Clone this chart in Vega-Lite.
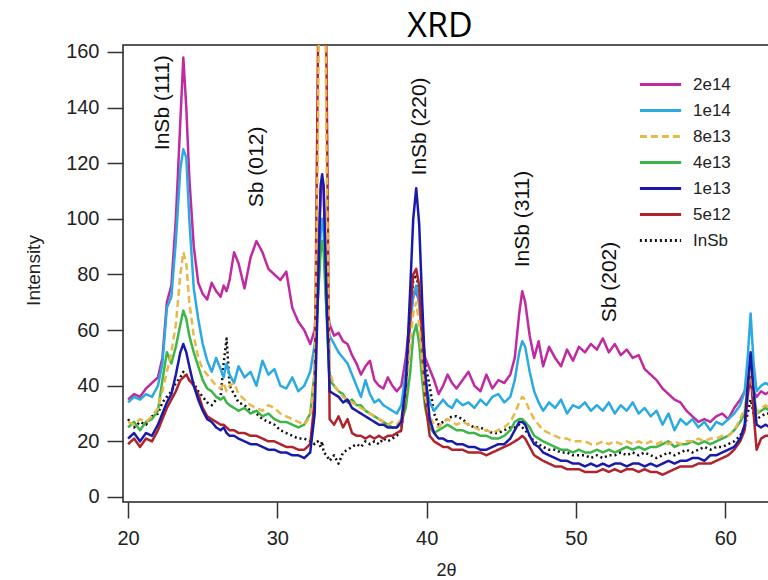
{
  "$schema": "https://vega.github.io/schema/vega-lite/v6.json",
  "width": 646,
  "height": 457,
  "autosize": {"type": "none"},
  "padding": {"left": 123, "top": 45, "right": 0, "bottom": 78},
  "background": "white",
  "title": {"text": "XRD", "font": "Open Sans", "fontSize": 34, "fontWeight": "normal", "color": "#000", "anchor": "middle", "frame": "group", "dx": -6, "dy": 35, "offset": 6, "baseline": "alphabetic"},
  "config": {
    "view": {"stroke": "#222", "strokeWidth": 1.5},
    "axis": {"domain": false, "grid": false, "tickColor": "#333", "tickWidth": 1.5, "tickSize": 16, "labelFont": "Liberation Sans", "labelFontSize": 20, "labelColor": "#222", "labelFlush": false, "titleFont": "Liberation Sans", "titleFontSize": 19, "titleFontWeight": "normal", "titleColor": "#222"},
    "legend": {"orient": "none", "legendX": 515, "legendY": 31, "labelFont": "Liberation Sans", "labelFontSize": 17, "labelColor": "#222", "symbolType": "stroke", "symbolSize": 1700, "symbolStrokeWidth": 3, "clipHeight": 17, "rowPadding": 8, "labelOffset": 10, "padding": 0}
  },
  "layer": [
    {
      "data": {"values": [
        {"x":20.0,"2e14":35,"1e14":34,"8e13":27,"4e13":25,"1e13":21,"5e12":19,"InSb":28},
        {"x":20.4,"2e14":37,"1e14":36,"8e13":26,"4e13":27,"1e13":23,"5e12":21,"InSb":25},
        {"x":20.8,"2e14":36,"1e14":35,"8e13":28,"4e13":24,"1e13":20,"5e12":18,"InSb":27},
        {"x":21.2,"2e14":39,"1e14":37,"8e13":27,"4e13":27,"1e13":23,"5e12":21,"InSb":26},
        {"x":21.6,"2e14":41,"1e14":36,"8e13":29,"4e13":28,"1e13":22,"5e12":20,"InSb":29},
        {"x":22.0,"2e14":43,"1e14":40,"8e13":32,"4e13":31,"1e13":26,"5e12":24,"InSb":30},
        {"x":22.3,"2e14":50,"1e14":48,"8e13":38,"4e13":42,"1e13":30,"5e12":28,"InSb":34},
        {"x":22.6,"2e14":70,"1e14":68,"8e13":45,"4e13":52,"1e13":34,"5e12":32,"InSb":36},
        {"x":22.9,"2e14":76,"1e14":72,"8e13":52,"4e13":48,"1e13":37,"5e12":35,"InSb":38},
        {"x":23.2,"2e14":100,"1e14":92,"8e13":62,"4e13":54,"1e13":44,"5e12":38,"InSb":41},
        {"x":23.5,"2e14":135,"1e14":118,"8e13":80,"4e13":62,"1e13":52,"5e12":42,"InSb":43},
        {"x":23.7,"2e14":158,"1e14":125,"8e13":88,"4e13":67,"1e13":55,"5e12":43,"InSb":45},
        {"x":23.9,"2e14":140,"1e14":122,"8e13":84,"4e13":64,"1e13":52,"5e12":44,"InSb":44},
        {"x":24.1,"2e14":115,"1e14":100,"8e13":70,"4e13":58,"1e13":47,"5e12":42,"InSb":42},
        {"x":24.4,"2e14":90,"1e14":75,"8e13":58,"4e13":52,"1e13":40,"5e12":40,"InSb":41},
        {"x":24.7,"2e14":77,"1e14":64,"8e13":50,"4e13":47,"1e13":35,"5e12":37,"InSb":38},
        {"x":25.0,"2e14":73,"1e14":55,"8e13":46,"4e13":42,"1e13":31,"5e12":32,"InSb":36},
        {"x":25.3,"2e14":71,"1e14":49,"8e13":44,"4e13":39,"1e13":28,"5e12":29,"InSb":34},
        {"x":25.6,"2e14":77,"1e14":45,"8e13":42,"4e13":38,"1e13":27,"5e12":28,"InSb":33},
        {"x":25.9,"2e14":74,"1e14":50,"8e13":40,"4e13":36,"1e13":25,"5e12":27,"InSb":35},
        {"x":26.2,"2e14":72,"1e14":46,"8e13":39,"4e13":35,"1e13":24,"5e12":26,"InSb":36},
        {"x":26.4,"2e14":76,"1e14":43,"8e13":41,"4e13":36,"1e13":25,"5e12":26,"InSb":48},
        {"x":26.6,"2e14":74,"1e14":48,"8e13":38,"4e13":34,"1e13":23,"5e12":25,"InSb":57},
        {"x":26.8,"2e14":78,"1e14":44,"8e13":40,"4e13":33,"1e13":22,"5e12":24,"InSb":40},
        {"x":27.1,"2e14":88,"1e14":41,"8e13":41,"4e13":32,"1e13":22,"5e12":24,"InSb":37},
        {"x":27.4,"2e14":84,"1e14":47,"8e13":37,"4e13":31,"1e13":21,"5e12":23,"InSb":34},
        {"x":27.8,"2e14":75,"1e14":43,"8e13":35,"4e13":32,"1e13":20,"5e12":23,"InSb":33},
        {"x":28.2,"2e14":86,"1e14":45,"8e13":33,"4e13":30,"1e13":19,"5e12":22,"InSb":31},
        {"x":28.6,"2e14":92,"1e14":40,"8e13":32,"4e13":31,"1e13":19,"5e12":22,"InSb":30},
        {"x":29.0,"2e14":88,"1e14":49,"8e13":31,"4e13":29,"1e13":18,"5e12":21,"InSb":28},
        {"x":29.4,"2e14":82,"1e14":44,"8e13":33,"4e13":30,"1e13":17,"5e12":20,"InSb":27},
        {"x":29.8,"2e14":80,"1e14":46,"8e13":32,"4e13":28,"1e13":17,"5e12":20,"InSb":26},
        {"x":30.2,"2e14":78,"1e14":40,"8e13":30,"4e13":27,"1e13":16,"5e12":19,"InSb":24},
        {"x":30.6,"2e14":81,"1e14":39,"8e13":29,"4e13":27,"1e13":16,"5e12":18,"InSb":23},
        {"x":31.0,"2e14":68,"1e14":43,"8e13":28,"4e13":26,"1e13":15,"5e12":18,"InSb":22},
        {"x":31.4,"2e14":63,"1e14":38,"8e13":27,"4e13":25,"1e13":15,"5e12":17,"InSb":21},
        {"x":31.8,"2e14":60,"1e14":40,"8e13":26,"4e13":26,"1e13":14,"5e12":17,"InSb":21},
        {"x":32.2,"2e14":55,"1e14":45,"8e13":29,"4e13":30,"1e13":16,"5e12":19,"InSb":20},
        {"x":32.5,"2e14":60,"1e14":55,"8e13":45,"4e13":45,"1e13":30,"5e12":35,"InSb":19},
        {"x":32.7,"2e14":80,"1e14":70,"8e13":120,"4e13":70,"1e13":70,"5e12":150,"InSb":20},
        {"x":32.9,"2e14":110,"1e14":95,"8e13":250,"4e13":88,"1e13":112,"5e12":250,"InSb":18},
        {"x":33.0,"2e14":114,"1e14":100,"8e13":260,"4e13":92,"1e13":116,"5e12":260,"InSb":20},
        {"x":33.1,"2e14":110,"1e14":95,"8e13":250,"4e13":88,"1e13":112,"5e12":250,"InSb":16},
        {"x":33.3,"2e14":70,"1e14":65,"8e13":120,"4e13":65,"1e13":70,"5e12":150,"InSb":15},
        {"x":33.5,"2e14":62,"1e14":58,"8e13":45,"4e13":42,"1e13":38,"5e12":28,"InSb":13},
        {"x":33.8,"2e14":58,"1e14":55,"8e13":40,"4e13":40,"1e13":37,"5e12":26,"InSb":15},
        {"x":34.1,"2e14":59,"1e14":52,"8e13":38,"4e13":38,"1e13":36,"5e12":29,"InSb":12},
        {"x":34.4,"2e14":56,"1e14":50,"8e13":36,"4e13":37,"1e13":34,"5e12":25,"InSb":16},
        {"x":34.7,"2e14":55,"1e14":48,"8e13":35,"4e13":34,"1e13":35,"5e12":28,"InSb":17},
        {"x":35.0,"2e14":51,"1e14":44,"8e13":34,"4e13":35,"1e13":32,"5e12":23,"InSb":18},
        {"x":35.3,"2e14":48,"1e14":40,"8e13":33,"4e13":33,"1e13":31,"5e12":22,"InSb":19},
        {"x":35.6,"2e14":44,"1e14":36,"8e13":32,"4e13":33,"1e13":30,"5e12":22,"InSb":18},
        {"x":35.9,"2e14":47,"1e14":42,"8e13":31,"4e13":31,"1e13":29,"5e12":21,"InSb":20},
        {"x":36.2,"2e14":49,"1e14":37,"8e13":30,"4e13":30,"1e13":28,"5e12":22,"InSb":19},
        {"x":36.5,"2e14":42,"1e14":34,"8e13":29,"4e13":29,"1e13":27,"5e12":21,"InSb":20},
        {"x":36.8,"2e14":40,"1e14":35,"8e13":28,"4e13":28,"1e13":26,"5e12":22,"InSb":19},
        {"x":37.1,"2e14":39,"1e14":33,"8e13":27,"4e13":27,"1e13":26,"5e12":21,"InSb":21},
        {"x":37.4,"2e14":43,"1e14":32,"8e13":26,"4e13":26,"1e13":25,"5e12":22,"InSb":20},
        {"x":37.7,"2e14":40,"1e14":31,"8e13":27,"4e13":25,"1e13":25,"5e12":22,"InSb":21},
        {"x":38.0,"2e14":38,"1e14":30,"8e13":26,"4e13":25,"1e13":25,"5e12":23,"InSb":22},
        {"x":38.3,"2e14":40,"1e14":33,"8e13":28,"4e13":27,"1e13":27,"5e12":24,"InSb":24},
        {"x":38.6,"2e14":50,"1e14":45,"8e13":38,"4e13":32,"1e13":40,"5e12":38,"InSb":40},
        {"x":38.9,"2e14":65,"1e14":62,"8e13":55,"4e13":45,"1e13":75,"5e12":65,"InSb":65},
        {"x":39.1,"2e14":72,"1e14":72,"8e13":66,"4e13":58,"1e13":100,"5e12":80,"InSb":78},
        {"x":39.3,"2e14":74,"1e14":76,"8e13":70,"4e13":62,"1e13":111,"5e12":82,"InSb":80},
        {"x":39.5,"2e14":70,"1e14":70,"8e13":62,"4e13":55,"1e13":98,"5e12":76,"InSb":74},
        {"x":39.7,"2e14":58,"1e14":55,"8e13":48,"4e13":42,"1e13":70,"5e12":55,"InSb":58},
        {"x":39.9,"2e14":50,"1e14":42,"8e13":36,"4e13":32,"1e13":45,"5e12":35,"InSb":48},
        {"x":40.2,"2e14":46,"1e14":34,"8e13":29,"4e13":25,"1e13":28,"5e12":22,"InSb":40},
        {"x":40.5,"2e14":42,"1e14":31,"8e13":26,"4e13":23,"1e13":23,"5e12":20,"InSb":30},
        {"x":40.8,"2e14":37,"1e14":33,"8e13":25,"4e13":24,"1e13":21,"5e12":19,"InSb":26},
        {"x":41.1,"2e14":40,"1e14":35,"8e13":27,"4e13":25,"1e13":21,"5e12":18,"InSb":27},
        {"x":41.4,"2e14":44,"1e14":33,"8e13":28,"4e13":26,"1e13":20,"5e12":18,"InSb":28},
        {"x":41.7,"2e14":41,"1e14":32,"8e13":27,"4e13":25,"1e13":20,"5e12":17,"InSb":29},
        {"x":42.0,"2e14":39,"1e14":35,"8e13":26,"4e13":24,"1e13":19,"5e12":17,"InSb":29},
        {"x":42.4,"2e14":42,"1e14":33,"8e13":27,"4e13":24,"1e13":19,"5e12":17,"InSb":28},
        {"x":42.8,"2e14":45,"1e14":34,"8e13":26,"4e13":23,"1e13":18,"5e12":16,"InSb":26},
        {"x":43.2,"2e14":40,"1e14":32,"8e13":25,"4e13":23,"1e13":18,"5e12":16,"InSb":25},
        {"x":43.6,"2e14":38,"1e14":35,"8e13":24,"4e13":22,"1e13":17,"5e12":16,"InSb":25},
        {"x":44.0,"2e14":44,"1e14":33,"8e13":24,"4e13":22,"1e13":17,"5e12":15,"InSb":24},
        {"x":44.4,"2e14":39,"1e14":36,"8e13":23,"4e13":21,"1e13":18,"5e12":16,"InSb":23},
        {"x":44.8,"2e14":42,"1e14":37,"8e13":24,"4e13":21,"1e13":19,"5e12":17,"InSb":23},
        {"x":45.2,"2e14":41,"1e14":34,"8e13":25,"4e13":22,"1e13":19,"5e12":18,"InSb":24},
        {"x":45.6,"2e14":44,"1e14":36,"8e13":27,"4e13":24,"1e13":21,"5e12":19,"InSb":25},
        {"x":45.9,"2e14":50,"1e14":42,"8e13":30,"4e13":27,"1e13":24,"5e12":20,"InSb":25},
        {"x":46.2,"2e14":66,"1e14":52,"8e13":34,"4e13":28,"1e13":27,"5e12":21,"InSb":26},
        {"x":46.4,"2e14":74,"1e14":56,"8e13":36,"4e13":28,"1e13":27,"5e12":22,"InSb":25},
        {"x":46.6,"2e14":70,"1e14":54,"8e13":35,"4e13":27,"1e13":26,"5e12":21,"InSb":24},
        {"x":46.9,"2e14":58,"1e14":45,"8e13":31,"4e13":25,"1e13":22,"5e12":18,"InSb":22},
        {"x":47.2,"2e14":50,"1e14":38,"8e13":28,"4e13":22,"1e13":19,"5e12":15,"InSb":20},
        {"x":47.5,"2e14":56,"1e14":34,"8e13":26,"4e13":21,"1e13":18,"5e12":14,"InSb":19},
        {"x":47.8,"2e14":47,"1e14":31,"8e13":24,"4e13":20,"1e13":16,"5e12":13,"InSb":18},
        {"x":48.2,"2e14":54,"1e14":34,"8e13":23,"4e13":19,"1e13":15,"5e12":12,"InSb":17},
        {"x":48.6,"2e14":50,"1e14":32,"8e13":22,"4e13":18,"1e13":14,"5e12":11,"InSb":17},
        {"x":49.0,"2e14":47,"1e14":35,"8e13":21,"4e13":17,"1e13":13,"5e12":11,"InSb":16},
        {"x":49.4,"2e14":53,"1e14":30,"8e13":21,"4e13":17,"1e13":13,"5e12":10,"InSb":16},
        {"x":49.8,"2e14":49,"1e14":33,"8e13":20,"4e13":16,"1e13":12,"5e12":10,"InSb":15},
        {"x":50.2,"2e14":54,"1e14":32,"8e13":20,"4e13":17,"1e13":12,"5e12":10,"InSb":15},
        {"x":50.6,"2e14":52,"1e14":34,"8e13":20,"4e13":16,"1e13":11,"5e12":9,"InSb":15},
        {"x":51.0,"2e14":55,"1e14":31,"8e13":19,"4e13":16,"1e13":12,"5e12":9,"InSb":14},
        {"x":51.4,"2e14":53,"1e14":33,"8e13":19,"4e13":17,"1e13":11,"5e12":9,"InSb":15},
        {"x":51.8,"2e14":57,"1e14":31,"8e13":20,"4e13":16,"1e13":12,"5e12":10,"InSb":14},
        {"x":52.2,"2e14":52,"1e14":34,"8e13":19,"4e13":17,"1e13":11,"5e12":9,"InSb":15},
        {"x":52.6,"2e14":55,"1e14":30,"8e13":20,"4e13":16,"1e13":12,"5e12":10,"InSb":15},
        {"x":53.0,"2e14":51,"1e14":33,"8e13":19,"4e13":17,"1e13":12,"5e12":9,"InSb":16},
        {"x":53.4,"2e14":53,"1e14":31,"8e13":20,"4e13":18,"1e13":11,"5e12":10,"InSb":15},
        {"x":53.8,"2e14":50,"1e14":34,"8e13":19,"4e13":17,"1e13":12,"5e12":10,"InSb":16},
        {"x":54.2,"2e14":51,"1e14":30,"8e13":20,"4e13":18,"1e13":12,"5e12":9,"InSb":15},
        {"x":54.6,"2e14":46,"1e14":32,"8e13":19,"4e13":17,"1e13":11,"5e12":10,"InSb":16},
        {"x":55.0,"2e14":44,"1e14":29,"8e13":20,"4e13":18,"1e13":12,"5e12":9,"InSb":15},
        {"x":55.4,"2e14":42,"1e14":31,"8e13":19,"4e13":18,"1e13":11,"5e12":9,"InSb":14},
        {"x":55.8,"2e14":39,"1e14":26,"8e13":20,"4e13":19,"1e13":12,"5e12":8,"InSb":15},
        {"x":56.2,"2e14":37,"1e14":30,"8e13":19,"4e13":20,"1e13":13,"5e12":9,"InSb":16},
        {"x":56.6,"2e14":35,"1e14":24,"8e13":20,"4e13":18,"1e13":12,"5e12":10,"InSb":15},
        {"x":57.0,"2e14":34,"1e14":28,"8e13":19,"4e13":19,"1e13":13,"5e12":11,"InSb":16},
        {"x":57.4,"2e14":31,"1e14":26,"8e13":20,"4e13":19,"1e13":13,"5e12":11,"InSb":17},
        {"x":57.8,"2e14":29,"1e14":28,"8e13":20,"4e13":20,"1e13":14,"5e12":11,"InSb":16},
        {"x":58.2,"2e14":27,"1e14":25,"8e13":21,"4e13":19,"1e13":14,"5e12":12,"InSb":17},
        {"x":58.6,"2e14":28,"1e14":27,"8e13":20,"4e13":20,"1e13":13,"5e12":12,"InSb":18},
        {"x":59.0,"2e14":27,"1e14":24,"8e13":21,"4e13":19,"1e13":15,"5e12":12,"InSb":17},
        {"x":59.4,"2e14":29,"1e14":27,"8e13":21,"4e13":20,"1e13":15,"5e12":13,"InSb":18},
        {"x":59.8,"2e14":30,"1e14":26,"8e13":22,"4e13":21,"1e13":16,"5e12":14,"InSb":18},
        {"x":60.2,"2e14":28,"1e14":28,"8e13":22,"4e13":22,"1e13":17,"5e12":15,"InSb":19},
        {"x":60.6,"2e14":32,"1e14":30,"8e13":24,"4e13":24,"1e13":18,"5e12":17,"InSb":20},
        {"x":61.0,"2e14":35,"1e14":33,"8e13":28,"4e13":27,"1e13":21,"5e12":20,"InSb":22},
        {"x":61.3,"2e14":38,"1e14":38,"8e13":32,"4e13":30,"1e13":26,"5e12":24,"InSb":25},
        {"x":61.5,"2e14":40,"1e14":50,"8e13":40,"4e13":40,"1e13":40,"5e12":36,"InSb":30},
        {"x":61.7,"2e14":40,"1e14":66,"8e13":45,"4e13":48,"1e13":52,"5e12":45,"InSb":35},
        {"x":61.9,"2e14":38,"1e14":48,"8e13":36,"4e13":38,"1e13":38,"5e12":30,"InSb":30},
        {"x":62.1,"2e14":36,"1e14":38,"8e13":30,"4e13":30,"1e13":26,"5e12":17,"InSb":28},
        {"x":62.4,"2e14":38,"1e14":40,"8e13":32,"4e13":31,"1e13":25,"5e12":21,"InSb":29},
        {"x":62.7,"2e14":37,"1e14":41,"8e13":33,"4e13":32,"1e13":26,"5e12":22,"InSb":30},
        {"x":63.0,"2e14":38,"1e14":40,"8e13":32,"4e13":31,"1e13":25,"5e12":22,"InSb":30}
      ]},
      "transform": [{"fold": ["InSb", "2e14", "1e14", "4e13", "5e12", "8e13", "1e13"], "as": ["series", "Intensity"]}],
      "mark": {"type": "line", "strokeWidth": 2.5, "clip": true, "strokeJoin": "round"},
      "encoding": {
        "x": {"field": "x", "type": "quantitative", "scale": {"domain": [19.66, 62.93], "nice": false, "zero": false},
              "axis": {"title": "2θ", "values": [20, 30, 40, 50, 60], "labelPadding": 10, "titleY": 68, "titleBaseline": "middle", "titleFontSize": 18}},
        "y": {"field": "Intensity", "type": "quantitative", "scale": {"domain": [-1.8, 162.5], "nice": false, "zero": false},
              "axis": {"title": "Intensity", "values": [0, 20, 40, 60, 80, 100, 120, 140, 160], "labelPadding": 8, "titleX": -90, "titleY": 225, "titleBaseline": "middle"}},
        "color": {"field": "series", "type": "nominal",
                  "scale": {"domain": ["2e14", "1e14", "8e13", "4e13", "1e13", "5e12", "InSb"],
                            "range": ["#C02AA0", "#2BAAE2", "#E8B84A", "#3DB54A", "#1A1AAA", "#B0232A", "#111111"]},
                  "legend": {"title": null}},
        "strokeDash": {"field": "series", "type": "nominal",
                       "scale": {"domain": ["2e14", "1e14", "8e13", "4e13", "1e13", "5e12", "InSb"],
                                 "range": [[1, 0], [1, 0], [7, 4], [1, 0], [1, 0], [1, 0], [2, 3]]},
                       "legend": {"title": null}}
      }
    },
    {
      "data": {"values": [
        {"label": "InSb (111)", "x": 22.34, "y": 124.7},
        {"label": "Sb (012)", "x": 28.64, "y": 104.2},
        {"label": "InSb (220)", "x": 39.56, "y": 115.6},
        {"label": "InSb (311)", "x": 46.46, "y": 82.6},
        {"label": "Sb (202)", "x": 52.28, "y": 62.8}
      ]},
      "mark": {"type": "text", "angle": 270, "align": "left", "baseline": "middle", "font": "Liberation Sans", "fontSize": 21, "color": "#111"},
      "encoding": {
        "x": {"field": "x", "type": "quantitative"},
        "y": {"field": "y", "type": "quantitative"},
        "text": {"field": "label"}
      }
    }
  ]
}
